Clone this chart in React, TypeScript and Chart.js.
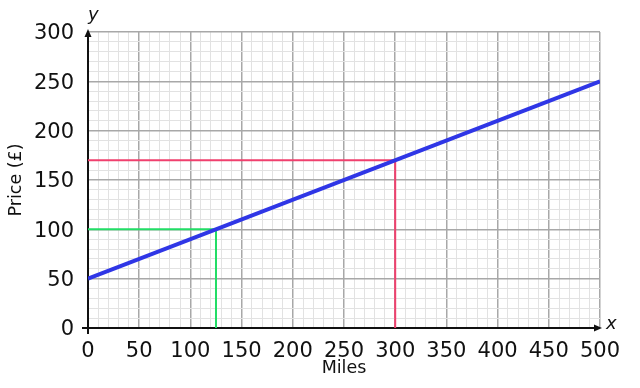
import React, { useEffect, useRef } from "react";
import { Chart, registerables } from "chart.js";

Chart.register(...registerables);

const lineMiles = [0, 500];
const linePrice = [50, 250];
const greenMiles = [0, 125, 125];
const greenPrice = [100, 100, 0];
const redMiles = [0, 300, 300];
const redPrice = [170, 170, 0];
const xMin = 0, xMax = 500, yMin = 0, yMax = 300;
const minorStep = 10;
const majorStep = 50;
const xTitle = "Miles";
const yTitle = "Price (£)";

const FONT = "DejaVu Sans";

const toPts = (xs: number[], ys: number[]) => xs.map((x, i) => ({ x, y: ys[i] }));

const axesPlugin = {
  id: "axesArrows",
  beforeDatasetsDraw(chart: any) {
    const { ctx } = chart;
    const xs = chart.scales.x;
    const ys = chart.scales.y;
    const x0 = xs.getPixelForValue(0);
    const y0 = ys.getPixelForValue(0);
    const xEnd = xs.getPixelForValue(xMax) + 2;
    const yEnd = ys.getPixelForValue(yMax) - 3;
    ctx.save();
    ctx.strokeStyle = "#111";
    ctx.fillStyle = "#111";
    ctx.lineWidth = 2;
    ctx.beginPath();
    ctx.moveTo(x0 - 6, y0);
    ctx.lineTo(xEnd - 6, y0);
    ctx.moveTo(x0, y0 + 6);
    ctx.lineTo(x0, yEnd + 6);
    ctx.stroke();
    ctx.beginPath();
    ctx.moveTo(xEnd, y0);
    ctx.lineTo(xEnd - 8, y0 - 3.5);
    ctx.lineTo(xEnd - 8, y0 + 3.5);
    ctx.closePath();
    ctx.fill();
    ctx.beginPath();
    ctx.moveTo(x0, yEnd);
    ctx.lineTo(x0 - 3.5, yEnd + 8);
    ctx.lineTo(x0 + 3.5, yEnd + 8);
    ctx.closePath();
    ctx.fill();
    ctx.font = `italic 18px "${FONT}"`;
    ctx.textAlign = "left";
    ctx.textBaseline = "middle";
    ctx.fillText("x", xEnd + 4, y0 - 4);
    ctx.fillText("y", x0 + 0, yEnd - 14);
    ctx.restore();
  },
};

export default function App() {
  const ref = useRef<HTMLCanvasElement>(null);
  useEffect(() => {
    if (!ref.current) return;
    const gridColor = (c: any) =>
      c.tick && c.tick.value % majorStep === 0 ? "#a8a8a8" : "#e2e2e2";
    const gridWidth = (c: any) =>
      c.tick && c.tick.value % majorStep === 0 ? 1.5 : 1;
    const tickCb = (v: any) => (Number(v) % majorStep === 0 ? String(v) : "");
    const chart = new Chart(ref.current, {
      type: "scatter",
      data: {
        datasets: [
          {
            data: toPts(lineMiles, linePrice),
            showLine: true,
            borderColor: "#2f36e6",
            borderWidth: 4,
            pointRadius: 0,
          },
          {
            data: toPts(redMiles, redPrice),
            showLine: true,
            borderColor: "#f0406e",
            borderWidth: 2,
            pointRadius: 0,
          },
          {
            data: toPts(greenMiles, greenPrice),
            showLine: true,
            borderColor: "#22dd66",
            borderWidth: 2,
            pointRadius: 0,
          },
        ],
      },
      options: {
        animation: false,
        responsive: false,
        devicePixelRatio: 1,
        layout: { padding: { top: 32, right: 40, left: 0, bottom: 0 } },
        plugins: { legend: { display: false }, tooltip: { enabled: false } },
        scales: {
          x: {
            type: "linear",
            min: xMin,
            max: xMax,
            afterFit: (s: any) => {
              s.height = 60;
            },
            ticks: {
              stepSize: minorStep,
              autoSkip: false,
              maxRotation: 0,
              padding: 11,
              color: "#111",
              font: { family: FONT, size: 21 },
              callback: tickCb,
            },
            grid: { color: gridColor, lineWidth: gridWidth, drawTicks: false },
            border: { display: false },
            title: {
              display: true,
              text: xTitle,
              color: "#111",
              font: { family: FONT, size: 17.5 },
              padding: { top: 0, bottom: 9 },
            },
          },
          y: {
            type: "linear",
            min: yMin,
            max: yMax,
            afterFit: (s: any) => {
              s.width = 88;
            },
            ticks: {
              stepSize: minorStep,
              autoSkip: false,
              padding: 14,
              labelOffset: 2,
              color: "#111",
              font: { family: FONT, size: 21 },
              callback: tickCb,
            },
            grid: { color: gridColor, lineWidth: gridWidth, drawTicks: false },
            border: { display: false },
            title: {
              display: true,
              text: yTitle,
              color: "#111",
              font: { family: FONT, size: 17.5 },
              padding: { top: 6, bottom: 0 },
            },
          },
        },
      },
      plugins: [axesPlugin],
    } as any);
    return () => chart.destroy();
  }, []);
  return (
    <div style={{ position: "absolute", left: 0, top: 0, width: 640, height: 388, background: "#fff" }}>
      <canvas ref={ref} width={640} height={388} />
    </div>
  );
}
